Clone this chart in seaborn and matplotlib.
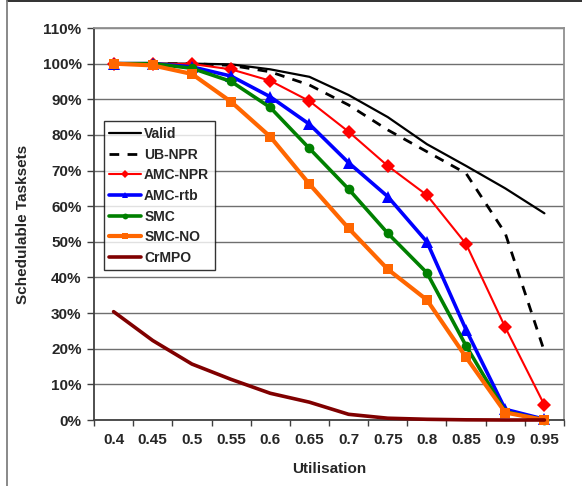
import matplotlib
matplotlib.use("Agg")
import matplotlib.pyplot as plt
from matplotlib.lines import Line2D
from matplotlib.ticker import PercentFormatter, FixedLocator
import seaborn as sns
import pandas as pd

# Utilisation levels (categorical x axis)
utilisation = ["0.4", "0.45", "0.5", "0.55", "0.6", "0.65", "0.7", "0.75", "0.8", "0.85", "0.9", "0.95"]

# Percentage of schedulable tasksets per analysis
valid   = [100, 100, 100, 99.8, 98.4, 96.3, 91.2, 85.0, 77.4, 71.3, 65.0, 58.0]
ub_npr  = [100, 100, 100, 99.5, 97.7, 94.0, 88.4, 81.4, 75.3, 69.2, 52.4, 19.2]
amc_npr = [100, 100, 99.9, 98.4, 95.2, 89.5, 80.9, 71.3, 63.1, 49.4, 26.0, 4.2]
amc_rtb = [100, 100, 99.1, 96.5, 90.7, 83.0, 72.2, 62.7, 50.0, 25.3, 3.0, 0.2]
smc     = [100, 100, 98.7, 95.0, 87.7, 76.2, 64.8, 52.4, 41.3, 20.8, 2.3, 0.0]
smc_no  = [100, 99.5, 97.1, 89.3, 79.5, 66.2, 53.8, 42.3, 33.7, 17.6, 2.1, 0.0]
crmpo   = [30.4, 22.3, 15.7, 11.4, 7.5, 5.0, 1.6, 0.5, 0.2, 0.05, 0.0, 0.0]

series = {
    "Valid": valid,
    "UB-NPR": ub_npr,
    "AMC-NPR": amc_npr,
    "AMC-rtb": amc_rtb,
    "SMC": smc,
    "SMC-NO": smc_no,
    "CrMPO": crmpo,
}

styles = {
    "Valid":   dict(color="black", linewidth=1.6),
    "UB-NPR":  dict(color="black", linewidth=2.0, dashes=(3.5, 3.0)),
    "AMC-NPR": dict(color="#FF0000", linewidth=1.5, marker="D", markersize=7.5),
    "AMC-rtb": dict(color="#0000FF", linewidth=2.6, marker="^", markersize=8),
    "SMC":     dict(color="#008000", linewidth=2.6, marker="o", markersize=7),
    "SMC-NO":  dict(color="#FF6600", linewidth=3.0, marker="s", markersize=7),
    "CrMPO":   dict(color="#800000", linewidth=2.6),
}

sns.set_style("white")
plt.rcParams["font.family"] = ["Liberation Sans", "DejaVu Sans"]
plt.rcParams["font.weight"] = "bold"

fig = plt.figure(figsize=(5.82, 4.86), dpi=100)
ax = fig.add_axes([94 / 582, 1 - 420 / 486, (564 - 94) / 582, (420 - 28) / 486])

pos = list(range(len(utilisation)))
for name, values in series.items():
    df = pd.DataFrame({"pos": pos, "value": values})
    kw = dict(styles[name])
    dashes = kw.pop("dashes", None)
    sns.lineplot(data=df, x="pos", y="value", ax=ax, label=name,
                 markeredgewidth=0, clip_on=False, zorder=3, **kw)
    if dashes is not None:
        ax.lines[-1].set_dashes(dashes)

ax.set_xlim(-0.5, len(utilisation) - 0.5)
ax.set_ylim(0, 110)

# y axis
ax.yaxis.set_major_locator(FixedLocator(range(0, 111, 10)))
ax.yaxis.set_major_formatter(PercentFormatter(xmax=100, decimals=0))
ax.tick_params(axis="y", which="major", direction="out", length=5, width=1,
               color="#404040", left=True, labelsize=11, pad=4)
ax.grid(axis="y", color="#6f6f6f", linewidth=1, zorder=0)
ax.set_axisbelow(True)

# x axis: labels at category centres, tick marks between categories
ax.set_xticks(pos)
ax.set_xticklabels(utilisation, fontweight="bold")
ax.set_xticks([p - 0.5 for p in pos] + [len(pos) - 0.5], minor=True)
ax.tick_params(axis="x", which="major", length=0, labelsize=11, pad=9)
ax.tick_params(axis="x", which="minor", direction="out", length=4, width=1,
               color="#404040", bottom=True)
for lab in ax.get_yticklabels():
    lab.set_fontweight("bold")

ax.set_xlabel("Utilisation", fontsize=11, fontweight="bold", labelpad=11)
ax.set_ylabel("Schedulable Tasksets", fontsize=11, fontweight="bold", labelpad=9)

for side in ["left", "bottom"]:
    ax.spines[side].set_color("#404040")
    ax.spines[side].set_linewidth(1.3)
for side in ["top", "right"]:
    ax.spines[side].set_color("#909090")
    ax.spines[side].set_linewidth(1.3)

leg = ax.legend(loc="upper left", bbox_to_anchor=(0.021, 0.762), frameon=True,
                fancybox=False, shadow=False, prop={"weight": "bold", "size": 10},
                handlelength=2.3, handletextpad=0.2, labelspacing=0.48,
                borderpad=0.4, borderaxespad=0, markerscale=0.6)
leg.get_frame().set_edgecolor("black")
leg.get_frame().set_linewidth(1.0)
leg.set_zorder(5)

# outer chart frame
fig.add_artist(Line2D([7 / 582, 1], [1 - 1.5 / 486] * 2, color="#202020", linewidth=1.3,
                      transform=fig.transFigure))
fig.add_artist(Line2D([7 / 582] * 2, [0, 1 - 1.5 / 486], color="#808080", linewidth=1.3,
                      transform=fig.transFigure))

fig.savefig("out.png", dpi=100)
